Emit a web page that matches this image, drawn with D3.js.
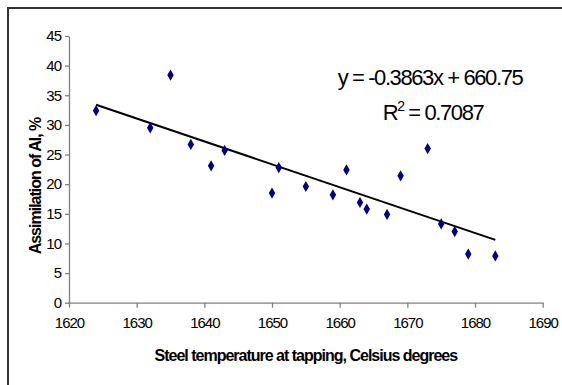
<!DOCTYPE html>
<html>
<head>
<meta charset="utf-8">
<script src="https://cdn.jsdelivr.net/npm/d3@7"></script>
<style>
  html, body { margin: 0; padding: 0; background: #fff; overflow: hidden; }
  svg { display: block; overflow: hidden; font-family: "Liberation Sans", Arial, sans-serif; }
</style>
</head>
<body>
<svg id="chart" width="562" height="385"></svg>
<script>
// Tapping temperature (°C) and Al assimilation (%) for each heat
const temperature = [1624, 1632, 1635, 1638, 1641, 1643, 1650, 1651, 1655, 1659,
                     1661, 1663, 1664, 1667, 1669, 1673, 1675, 1677, 1679, 1683];
const assimilation = [32.4, 29.5, 38.4, 26.7, 23.1, 25.7, 18.5, 22.8, 19.6, 18.2,
                      22.4, 16.9, 15.8, 14.9, 21.4, 26.0, 13.3, 12.0, 8.2, 7.9];

// Linear trend reported on the chart
const trendSlope = -0.3863;
const trendIntercept = 660.75;
const trendR2 = 0.7087;

const xTicks = [1620, 1630, 1640, 1650, 1660, 1670, 1680, 1690];
const yTicks = [0, 5, 10, 15, 20, 25, 30, 35, 40, 45];

const svg = d3.select("#chart");

// Chart frame (right and bottom edges fall outside the view)
svg.append("rect")
  .attr("x", 8).attr("y", 8)
  .attr("width", 800).attr("height", 600)
  .attr("fill", "#fff")
  .attr("stroke", "#333").attr("stroke-width", 2);

const plot = { left: 69, right: 542.7, top: 36, bottom: 302.7 };

const x = d3.scaleLinear().domain([1620, 1690]).range([plot.left, plot.right]);
const y = d3.scaleLinear().domain([0, 45]).range([plot.bottom, plot.top]);

const axisColor = "#808080";
const font = "Liberation Sans, Arial, sans-serif";

// X axis
const gx = svg.append("g")
  .attr("transform", `translate(0,${plot.bottom})`)
  .call(d3.axisBottom(x).tickValues(xTicks).tickSize(5).tickSizeOuter(0).tickPadding(5)
    .tickFormat(d3.format("d")));
gx.select(".domain").attr("stroke", axisColor).attr("stroke-width", 1.3);
gx.selectAll(".tick line").attr("stroke", axisColor).attr("stroke-width", 1.3);
gx.selectAll(".tick text")
  .attr("fill", "#000").attr("font-size", 15).attr("letter-spacing", -1)
  .attr("font-family", font)
  .attr("dy", "1.0em");

// Y axis
const gy = svg.append("g")
  .attr("transform", `translate(${plot.left},0)`)
  .call(d3.axisLeft(y).tickValues(yTicks).tickSize(4).tickSizeOuter(0).tickPadding(4));
gy.select(".domain").attr("stroke", axisColor).attr("stroke-width", 1.3);
gy.selectAll(".tick line").attr("stroke", axisColor).attr("stroke-width", 1.3);
gy.selectAll(".tick text")
  .attr("fill", "#000").attr("font-size", 15).attr("letter-spacing", -1)
  .attr("font-family", font);

// Axis titles
svg.append("text")
  .attr("x", (plot.left + plot.right) / 2).attr("y", 361)
  .attr("text-anchor", "middle")
  .attr("font-size", 16).attr("font-weight", "bold").attr("letter-spacing", -1)
  .text("Steel temperature at tapping, Celsius degrees");

svg.append("text")
  .attr("transform", `translate(41,${186}) rotate(-90)`)
  .attr("text-anchor", "middle")
  .attr("font-size", 16).attr("font-weight", "bold").attr("letter-spacing", -1)
  .text("Assimilation of Al, %");

// Trend line across the observed temperature range
const tx = d3.extent(temperature);
svg.append("line")
  .attr("x1", x(tx[0])).attr("y1", y(trendSlope * tx[0] + trendIntercept))
  .attr("x2", x(tx[1])).attr("y2", y(trendSlope * tx[1] + trendIntercept))
  .attr("stroke", "#000").attr("stroke-width", 2);

// Data markers
const diamond = d3.symbol().type(d3.symbolDiamond).size(36);
svg.append("g").selectAll("path")
  .data(temperature.map((t, i) => [t, assimilation[i]]))
  .join("path")
  .attr("transform", d => `translate(${x(d[0])},${y(d[1])})`)
  .attr("d", diamond)
  .attr("fill", "#000080");

// Regression equation and R²
const eq = svg.append("g").attr("font-size", 22).attr("letter-spacing", -1.4).attr("fill", "#000");
eq.append("text")
  .attr("x", 430).attr("y", 85).attr("text-anchor", "middle")
  .text(`y = ${trendSlope}x + ${trendIntercept}`);
const r2 = eq.append("text")
  .attr("x", 433).attr("y", 120).attr("text-anchor", "middle");
r2.append("tspan").text("R");
r2.append("tspan").attr("font-size", 14).attr("dy", -9).text("2");
r2.append("tspan").attr("dy", 9).text(` = ${trendR2}`);
</script>
</body>
</html>
